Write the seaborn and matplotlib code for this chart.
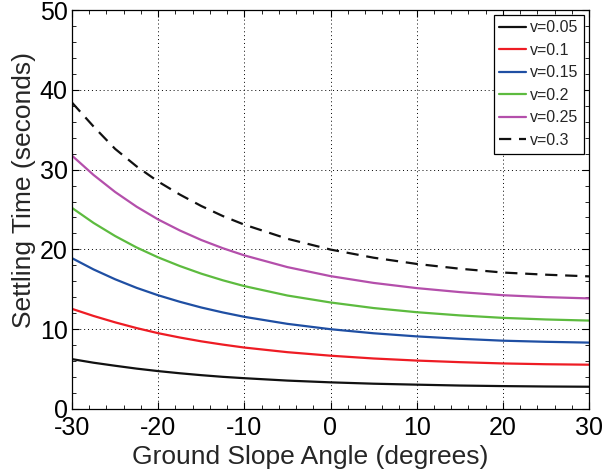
import numpy as np
import pandas as pd
import matplotlib
matplotlib.use("Agg")
import matplotlib.pyplot as plt
import seaborn as sns
from matplotlib.ticker import MultipleLocator

angles = [-30, -27.5, -25, -22.5, -20, -17.5, -15, -12.5, -10, -5, 0, 5, 10, 15, 20, 25, 30]
v005 = [6.25, 5.8, 5.42, 5.06, 4.75, 4.48, 4.24, 4.03, 3.86, 3.56, 3.34, 3.17, 3.05, 2.94, 2.87, 2.82, 2.79]
v010 = [12.55, 11.66, 10.86, 10.14, 9.5, 8.96, 8.48, 8.07, 7.7, 7.12, 6.68, 6.33, 6.07, 5.87, 5.71, 5.61, 5.55]
v015 = [18.9, 17.49, 16.26, 15.18, 14.25, 13.44, 12.72, 12.1, 11.55, 10.67, 10.0, 9.49, 9.1, 8.8, 8.56, 8.42, 8.32]
v020 = [25.2, 23.32, 21.68, 20.24, 19.0, 17.92, 16.96, 16.13, 15.4, 14.22, 13.35, 12.65, 12.13, 11.73, 11.42, 11.22, 11.08]
v025 = [31.75, 29.33, 27.2, 25.35, 23.75, 22.38, 21.18, 20.15, 19.25, 17.78, 16.65, 15.8, 15.15, 14.65, 14.26, 14.02, 13.86]
v030 = [38.4, 35.4, 32.6, 30.4, 28.5, 26.88, 25.44, 24.18, 23.1, 21.33, 19.98, 18.96, 18.18, 17.58, 17.1, 16.83, 16.62]

labels = ["v=0.05", "v=0.1", "v=0.15", "v=0.2", "v=0.25", "v=0.3"]
series = [v005, v010, v015, v020, v025, v030]
colors = ["#111111", "#ee1c24", "#1f4fa3", "#5dbb3f", "#b44fab", "#111111"]
styles = ["-", "-", "-", "-", "-", (0, (5.5, 3.5))]

sns.set_style("ticks")
plt.rcParams["font.family"] = ["Liberation Sans", "DejaVu Sans"]
plt.rcParams["axes.unicode_minus"] = False

fig = plt.figure(figsize=(6.15, 4.72), dpi=100)
ax = fig.add_axes([72/615, 1-409/472, (589-72)/615, (409-10)/472])

for lab, ys, c, ls in zip(labels, series, colors, styles):
    df = pd.DataFrame({"angle": angles, "t": ys})
    sns.lineplot(data=df, x="angle", y="t", ax=ax, color=c, linestyle=ls,
                 linewidth=1.6, label=lab)

ax.set_xlim(-30, 30)
ax.set_ylim(0, 50)
ax.xaxis.set_major_locator(MultipleLocator(10))
ax.yaxis.set_major_locator(MultipleLocator(10))
ax.xaxis.set_minor_locator(MultipleLocator(2))
ax.yaxis.set_minor_locator(MultipleLocator(2))
ax.tick_params(which="both", direction="in", top=True, right=True, colors="black")
ax.tick_params(which="major", length=5, width=0.8, labelsize=18)
ax.tick_params(which="minor", length=3, width=0.6)
ax.tick_params(axis="x", which="major", pad=5)
ax.tick_params(axis="y", which="major", pad=3)
ax.grid(True, which="major", color="black", linestyle=(0, (1, 3)), linewidth=0.7)
for s in ax.spines.values():
    s.set_color("black")
    s.set_linewidth(0.9)

ax.set_xlabel("Ground Slope Angle (degrees)", fontsize=19, labelpad=3.5, x=0.46)
ax.set_ylabel("Settling Time (seconds)", fontsize=19, labelpad=3, y=0.55)

leg = ax.legend(loc="upper right", fontsize=11.5, frameon=True, fancybox=False,
                edgecolor="black", handlelength=1.7, handletextpad=0.25,
                borderaxespad=0.3, labelspacing=0.47, borderpad=0.35)
leg.get_frame().set_linewidth(0.9)
leg.get_frame().set_alpha(1)

fig.savefig("out.png", dpi=100)
